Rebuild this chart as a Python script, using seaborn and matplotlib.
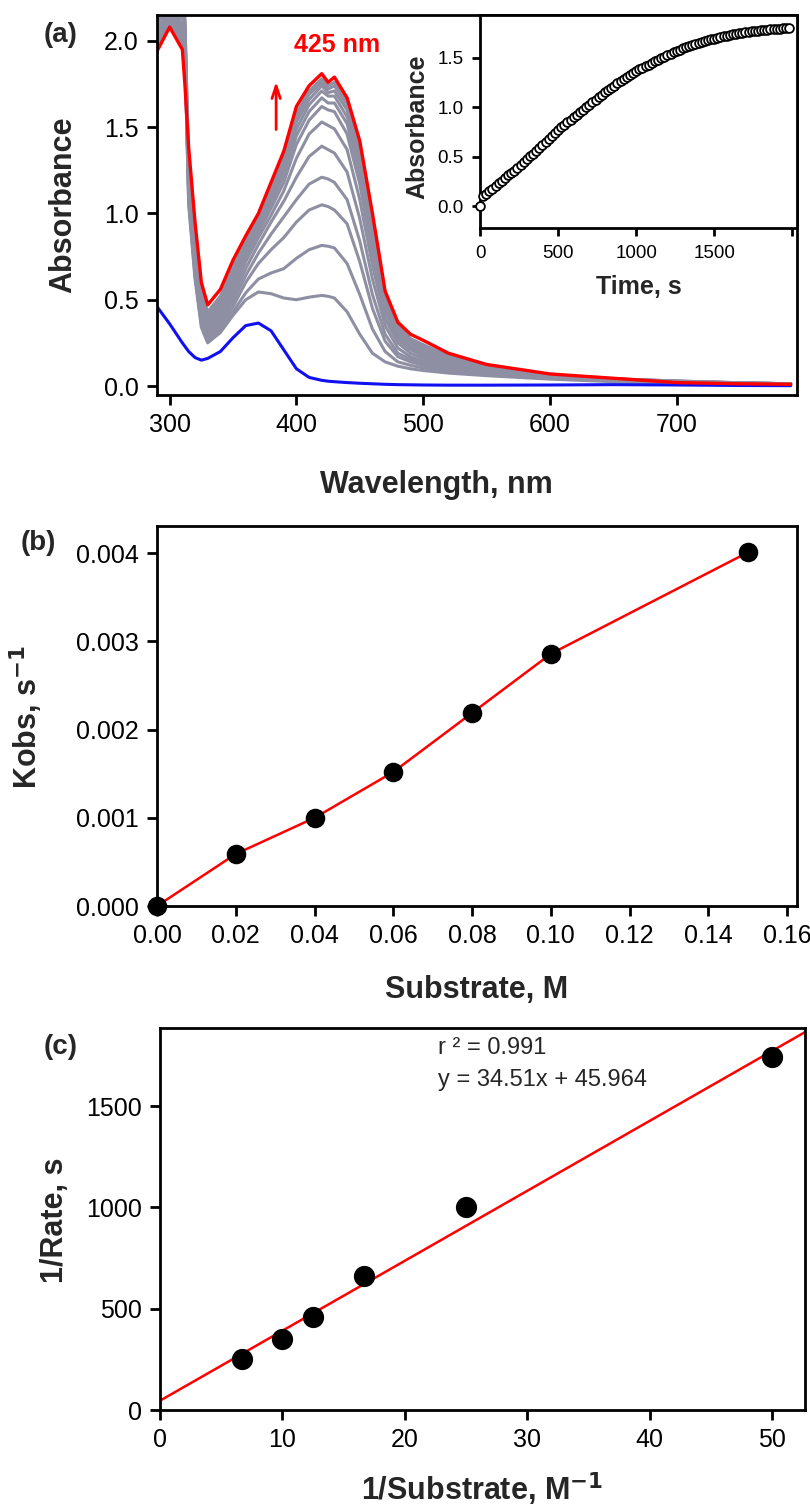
import numpy as np
import pandas as pd
import seaborn as sns
from matplotlib import pyplot as plt

sns.set_style("ticks")
plt.rcParams["font.family"] = ["Liberation Sans", "DejaVu Sans"]

# ---- panel (a): UV-vis spectra ----
wavelength = [290, 300, 310, 312, 315, 320, 325, 330, 340, 350, 360, 370, 380, 390, 400,
              410, 420, 425, 430, 440, 450, 460, 470, 480, 490, 500, 520, 550, 600, 650,
              700, 750, 790]

spec_start = [0.46, 0.36, 0.25, 0.23, 0.20, 0.165, 0.15, 0.16, 0.20, 0.28, 0.35, 0.365, 0.32,
              0.21, 0.10, 0.05, 0.033, 0.028, 0.025, 0.02, 0.016, 0.013, 0.01, 0.008, 0.007,
              0.006, 0.005, 0.005, 0.006, 0.008, 0.006, 0.003, 0.002]

spec_final = [1.94, 2.08, 1.95, 1.75, 1.38, 0.95, 0.60, 0.47, 0.56, 0.73, 0.87, 1.00, 1.18,
              1.36, 1.62, 1.74, 1.81, 1.76, 1.79, 1.67, 1.42, 1.00, 0.55, 0.37, 0.30, 0.265,
              0.19, 0.125, 0.07, 0.045, 0.02, 0.013, 0.01]

spec_g01 = [1.96, 2.09, 1.97, 1.92, 1.05, 0.62, 0.34, 0.25, 0.31, 0.41, 0.50, 0.545, 0.535, 0.51,
            0.50, 0.515, 0.525, 0.52, 0.51, 0.43, 0.30, 0.19, 0.14, 0.115, 0.10, 0.09, 0.075,
            0.06, 0.04, 0.025, 0.016, 0.011, 0.008]
spec_g02 = [1.98, 2.10, 1.99, 1.94, 1.07, 0.64, 0.36, 0.26, 0.32, 0.43, 0.54, 0.62, 0.655, 0.68,
            0.74, 0.79, 0.815, 0.81, 0.80, 0.71, 0.53, 0.33, 0.20, 0.14, 0.12, 0.105, 0.085,
            0.066, 0.045, 0.03, 0.02, 0.013, 0.01]
spec_g03 = [1.99, 2.10, 2.00, 1.96, 1.09, 0.66, 0.38, 0.27, 0.34, 0.46, 0.60, 0.71, 0.79, 0.86,
            0.95, 1.02, 1.05, 1.04, 1.02, 0.94, 0.72, 0.45, 0.26, 0.17, 0.14, 0.12, 0.095,
            0.07, 0.048, 0.032, 0.022, 0.014, 0.01]
spec_g04 = [2.01, 2.11, 2.02, 1.98, 1.11, 0.68, 0.39, 0.28, 0.36, 0.49, 0.64, 0.77, 0.88, 0.98,
            1.08, 1.17, 1.21, 1.20, 1.18, 1.08, 0.84, 0.53, 0.30, 0.19, 0.155, 0.13, 0.10,
            0.075, 0.05, 0.034, 0.024, 0.015, 0.011]
spec_g05 = [2.03, 2.11, 2.03, 2.00, 1.13, 0.70, 0.41, 0.30, 0.38, 0.52, 0.68, 0.82, 0.95, 1.07,
            1.21, 1.33, 1.39, 1.37, 1.35, 1.24, 0.97, 0.62, 0.35, 0.22, 0.17, 0.145, 0.11,
            0.08, 0.053, 0.036, 0.025, 0.016, 0.012]
spec_g06 = [2.05, 2.12, 2.05, 2.02, 1.15, 0.72, 0.42, 0.31, 0.40, 0.55, 0.72, 0.86, 0.99, 1.13,
            1.32, 1.46, 1.53, 1.51, 1.49, 1.37, 1.08, 0.70, 0.39, 0.25, 0.19, 0.16, 0.12,
            0.085, 0.056, 0.038, 0.026, 0.017, 0.012]
spec_g07 = [2.06, 2.12, 2.07, 2.04, 1.17, 0.74, 0.44, 0.33, 0.42, 0.58, 0.75, 0.89, 1.03, 1.18,
            1.40, 1.54, 1.62, 1.60, 1.59, 1.46, 1.17, 0.77, 0.43, 0.27, 0.21, 0.175, 0.13,
            0.09, 0.058, 0.039, 0.027, 0.018, 0.013]
spec_g08 = [2.08, 2.13, 2.08, 2.06, 1.19, 0.76, 0.46, 0.35, 0.44, 0.61, 0.77, 0.91, 1.06, 1.22,
            1.45, 1.59, 1.67, 1.64, 1.64, 1.52, 1.23, 0.82, 0.46, 0.29, 0.22, 0.185, 0.135,
            0.095, 0.06, 0.04, 0.027, 0.018, 0.013]
spec_g09 = [2.10, 2.13, 2.10, 2.08, 1.21, 0.78, 0.48, 0.37, 0.46, 0.63, 0.79, 0.93, 1.08, 1.25,
            1.49, 1.63, 1.71, 1.68, 1.68, 1.56, 1.28, 0.87, 0.49, 0.31, 0.235, 0.20, 0.145,
            0.10, 0.062, 0.04, 0.028, 0.018, 0.013]
spec_g10 = [2.12, 2.14, 2.11, 2.10, 1.23, 0.80, 0.50, 0.39, 0.48, 0.65, 0.81, 0.95, 1.10, 1.28,
            1.53, 1.66, 1.74, 1.70, 1.71, 1.60, 1.32, 0.91, 0.51, 0.33, 0.25, 0.21, 0.155,
            0.105, 0.064, 0.041, 0.028, 0.018, 0.013]
spec_g11 = [2.13, 2.14, 2.13, 2.12, 1.25, 0.82, 0.52, 0.41, 0.50, 0.67, 0.83, 0.96, 1.12, 1.30,
            1.56, 1.69, 1.76, 1.72, 1.74, 1.63, 1.36, 0.94, 0.53, 0.34, 0.26, 0.225, 0.165,
            0.11, 0.065, 0.042, 0.029, 0.019, 0.013]
spec_g12 = [2.15, 2.15, 2.15, 2.14, 1.27, 0.84, 0.54, 0.43, 0.52, 0.69, 0.85, 0.98, 1.14, 1.32,
            1.58, 1.71, 1.78, 1.74, 1.76, 1.65, 1.39, 0.97, 0.54, 0.35, 0.275, 0.24, 0.175,
            0.115, 0.066, 0.042, 0.029, 0.019, 0.013]

spec_gray = [spec_g01, spec_g02, spec_g03, spec_g04, spec_g05, spec_g06,
             spec_g07, spec_g08, spec_g09, spec_g10, spec_g11, spec_g12]

# inset: absorbance at 425 nm vs time
time_s = [0, 20, 40, 60, 80, 100, 120, 140, 160, 180, 200, 220, 240, 260, 280, 300, 320,
          340, 360, 380, 400, 420, 440, 460, 480, 500, 520, 540, 560, 580, 600, 620, 640,
          660, 680, 700, 720, 740, 760, 780, 800, 820, 840, 860, 880, 900, 920, 940, 960,
          980, 1000, 1020, 1040, 1060, 1080, 1100, 1120, 1140, 1160, 1180, 1200, 1220,
          1240, 1260, 1280, 1300, 1320, 1340, 1360, 1380, 1400, 1420, 1440, 1460, 1480,
          1500, 1520, 1540, 1560, 1580, 1600, 1620, 1640, 1660, 1680, 1700, 1720, 1740,
          1760, 1780, 1800, 1820, 1840, 1860, 1880, 1900, 1920, 1940, 1960, 1980]
abs_425 = [0.00, 0.10, 0.12, 0.15, 0.17, 0.20, 0.23, 0.25, 0.28, 0.31, 0.34, 0.36, 0.39,
           0.42, 0.45, 0.48, 0.51, 0.53, 0.56, 0.59, 0.62, 0.65, 0.68, 0.71, 0.74, 0.77,
           0.80, 0.82, 0.85, 0.87, 0.90, 0.92, 0.95, 0.97, 1.00, 1.02, 1.05, 1.07, 1.10,
           1.12, 1.15, 1.17, 1.19, 1.21, 1.24, 1.26, 1.28, 1.30, 1.32, 1.34, 1.36, 1.38,
           1.40, 1.42, 1.43, 1.45, 1.47, 1.48, 1.50, 1.51, 1.53, 1.54, 1.56, 1.57, 1.58,
           1.60, 1.61, 1.62, 1.63, 1.64, 1.65, 1.66, 1.67, 1.68, 1.69, 1.69, 1.70, 1.71,
           1.72, 1.72, 1.73, 1.74, 1.74, 1.75, 1.75, 1.76, 1.76, 1.77, 1.77, 1.77, 1.78,
           1.78, 1.78, 1.79, 1.79, 1.79, 1.79, 1.80, 1.80, 1.80]

# ---- panel (b): kobs vs substrate ----
substrate = [0.00, 0.02, 0.04, 0.06, 0.08, 0.10, 0.15]
kobs = [0.0, 0.00059, 0.00100, 0.00152, 0.00219, 0.00286, 0.00401]

# ---- panel (c): double reciprocal ----
inv_substrate = [6.67, 10.0, 12.5, 16.67, 25.0, 50.0]
inv_rate = [250, 350, 460, 660, 1000, 1740]
fit_slope, fit_intercept = 34.51, 45.964
fit_x = [0, 53]

GRAY = "#8e8fa3"
TICK_FS = 18
LABEL_FS = 22
W, H = 810, 1510


def rect(left, top, right, bottom):
    return [left / W, 1 - bottom / H, (right - left) / W, (bottom - top) / H]


def style_box(ax, lw=2.0, tick_len=7, fs=TICK_FS):
    for sp in ax.spines.values():
        sp.set_visible(True)
        sp.set_linewidth(lw)
        sp.set_color("black")
    ax.tick_params(direction="out", length=tick_len, width=lw, labelsize=fs,
                   top=False, right=False, colors="black", pad=6)


fig = plt.figure(figsize=(W / 100, H / 100), dpi=100)

# (a)
ax_a = fig.add_axes(rect(157, 15, 797, 395))
for g in spec_gray:
    sns.lineplot(x=wavelength, y=g, ax=ax_a, color=GRAY, lw=2.2, sort=False, estimator=None)
sns.lineplot(x=wavelength, y=spec_start, ax=ax_a, color="#1010f0", lw=2.2, sort=False, estimator=None)
sns.lineplot(x=wavelength, y=spec_final, ax=ax_a, color="#ff0000", lw=2.4, sort=False, estimator=None)
ax_a.set_xlim(290, 795)
ax_a.set_ylim(-0.052, 2.15)
ax_a.set_xticks([300, 400, 500, 600, 700])
ax_a.set_yticks([0.0, 0.5, 1.0, 1.5, 2.0])
ax_a.set_yticklabels(["0.0", "0.5", "1.0", "1.5", "2.0"])
style_box(ax_a)
ax_a.set_xlabel("Wavelength, nm", fontsize=LABEL_FS, fontweight="bold", va="center")
ax_a.set_ylabel("Absorbance", fontsize=LABEL_FS, fontweight="bold", va="center")
ax_a.xaxis.set_label_coords(0.436, -0.237)
ax_a.yaxis.set_label_coords(-0.147, 0.5)
ax_a.text(432, 1.975, "425 nm", color="#ff0000", fontsize=18, fontweight="bold",
          ha="center", va="center")
ax_a.annotate("", xy=(384, 1.78), xytext=(384, 1.47),
              arrowprops=dict(arrowstyle="->,head_length=0.9,head_width=0.3",
                              color="#ff0000", lw=2))

# inset
ax_in = fig.add_axes(rect(480, 15, 797, 228))
sns.scatterplot(x=time_s, y=abs_425, ax=ax_in, marker="o", s=40, color="white",
                edgecolor="black", linewidth=1.3, clip_on=False, zorder=3)
ax_in.set_xlim(0, 2030)
ax_in.set_ylim(-0.22, 1.93)
ax_in.set_xticks([0, 500, 1000, 1500, 2000])
ax_in.set_xticklabels(["0", "500", "1000", "1500", ""])
ax_in.set_yticks([0.0, 0.5, 1.0, 1.5])
ax_in.set_yticklabels(["0.0", "0.5", "1.0", "1.5"])
style_box(ax_in, lw=2.0, tick_len=6, fs=13.5)
ax_in.set_xlabel("Time, s", fontsize=18, fontweight="bold", va="center")
ax_in.set_ylabel("Absorbance", fontsize=18, fontweight="bold", va="center")
ax_in.xaxis.set_label_coords(0.5, -0.277)
ax_in.yaxis.set_label_coords(-0.199, 0.474)

# (b)
ax_b = fig.add_axes(rect(157, 526, 797, 906))
sns.lineplot(x=substrate, y=kobs, ax=ax_b, color="#ff0000", lw=1.8, sort=False, estimator=None)
sns.scatterplot(x=substrate, y=kobs, ax=ax_b, s=170, color="black", edgecolor="black",
                clip_on=False, zorder=3)
ax_b.set_xlim(0, 0.1625)
ax_b.set_ylim(0, 0.00431)
ax_b.set_xticks([0.00, 0.02, 0.04, 0.06, 0.08, 0.10, 0.12, 0.14, 0.16])
ax_b.set_xticklabels(["0.00", "0.02", "0.04", "0.06", "0.08", "0.10", "0.12", "0.14", "0.16"])
ax_b.set_yticks([0.000, 0.001, 0.002, 0.003, 0.004])
ax_b.set_yticklabels(["0.000", "0.001", "0.002", "0.003", "0.004"])
style_box(ax_b)
ax_b.set_xlabel("Substrate, M", fontsize=LABEL_FS, fontweight="bold", va="center")
ax_b.set_ylabel("Kobs, s$^{\\mathbf{-1}}$", fontsize=LABEL_FS, fontweight="bold", va="center")
ax_b.xaxis.set_label_coords(0.5, -0.221)
ax_b.yaxis.set_label_coords(-0.205, 0.497)

# (c)
ax_c = fig.add_axes(rect(160, 1028, 805, 1410))
fit_y = [fit_slope * v + fit_intercept for v in fit_x]
sns.lineplot(x=fit_x, y=fit_y, ax=ax_c, color="#ff0000", lw=1.8, sort=False, estimator=None)
sns.scatterplot(x=inv_substrate, y=inv_rate, ax=ax_c, s=200, color="black", edgecolor="black",
                zorder=3)
ax_c.set_xlim(0, 52.7)
ax_c.set_ylim(0, 1885)
ax_c.set_xticks([0, 10, 20, 30, 40, 50])
ax_c.set_yticks([0, 500, 1000, 1500])
style_box(ax_c)
ax_c.set_xlabel("1/Substrate, M$^{\\mathbf{-1}}$", fontsize=LABEL_FS, fontweight="bold", va="center")
ax_c.set_ylabel("1/Rate, s", fontsize=LABEL_FS, fontweight="bold", va="center")
ax_c.xaxis.set_label_coords(0.5, -0.208)
ax_c.yaxis.set_label_coords(-0.163, 0.497)
ax_c.text(22.7, 1786, "r \u00b2 = 0.991", fontsize=17, ha="left", va="center")
ax_c.text(22.7, 1628, "y = 34.51x + 45.964", fontsize=17, ha="left", va="center")

# panel letters
for lab, px, py in [("(a)", 61, 35), ("(b)", 38, 543), ("(c)", 61, 1047)]:
    fig.text(px / W, 1 - py / H, lab, fontsize=20, fontweight="bold", ha="center", va="center")

fig.savefig("out.png", dpi=100)
